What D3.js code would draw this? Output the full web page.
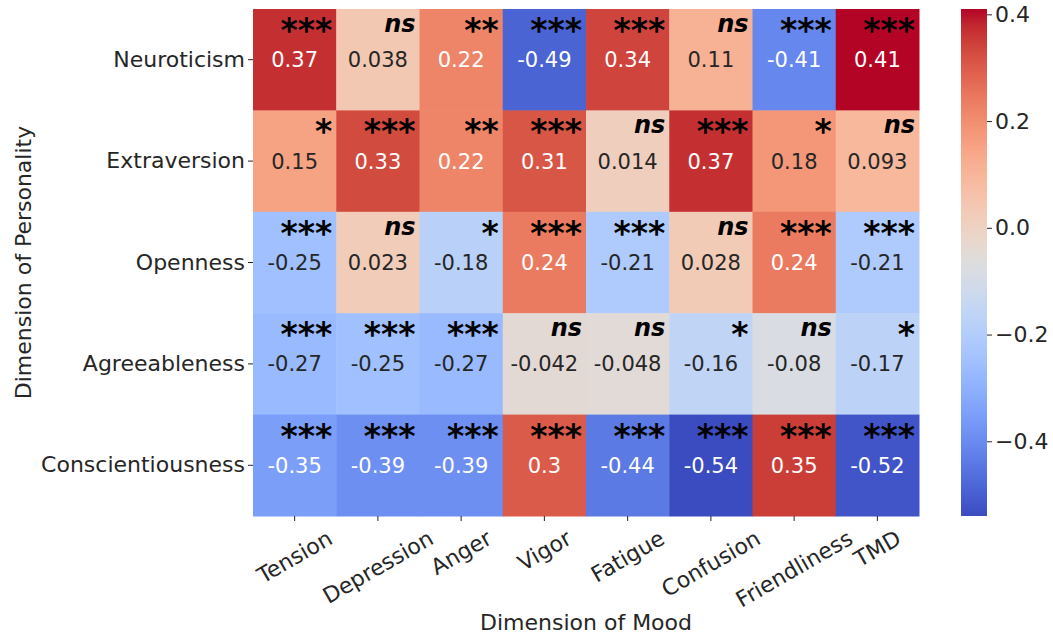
<!DOCTYPE html>
<html>
<head>
<meta charset="utf-8">
<script src="https://cdn.jsdelivr.net/npm/d3@7"></script>
<style>
  html, body { margin: 0; padding: 0; background: #ffffff; }
  svg { display: block; font-family: "DejaVu Sans", sans-serif; }
</style>
</head>
<body>
<svg id="chart" width="1053" height="637"></svg>
<script>
// ---- data ----
const personality = ["Neuroticism", "Extraversion", "Openness", "Agreeableness", "Conscientiousness"];
const mood = ["Tension", "Depression", "Anger", "Vigor", "Fatigue", "Confusion", "Friendliness", "TMD"];
const neuroticism       = [0.37, 0.038, 0.22, -0.49, 0.34, 0.11, -0.41, 0.41];
const extraversion      = [0.15, 0.33, 0.22, 0.31, 0.014, 0.37, 0.18, 0.093];
const openness          = [-0.25, 0.023, -0.18, 0.24, -0.21, 0.028, 0.24, -0.21];
const agreeableness     = [-0.27, -0.25, -0.27, -0.042, -0.048, -0.16, -0.08, -0.17];
const conscientiousness = [-0.35, -0.39, -0.39, 0.3, -0.44, -0.54, 0.35, -0.52];
const sigNeuroticism       = ["***", "ns", "**", "***", "***", "ns", "***", "***"];
const sigExtraversion      = ["*", "***", "**", "***", "ns", "***", "*", "ns"];
const sigOpenness          = ["***", "ns", "*", "***", "***", "ns", "***", "***"];
const sigAgreeableness     = ["***", "***", "***", "ns", "ns", "*", "ns", "*"];
const sigConscientiousness = ["***", "***", "***", "***", "***", "***", "***", "***"];
const colorbarTicks = [0.4, 0.2, 0.0, -0.2, -0.4];
const xTitle = "Dimension of Mood";
const yTitle = "Dimension of Personality";

const values = [neuroticism, extraversion, openness, agreeableness, conscientiousness];
const sigs = [sigNeuroticism, sigExtraversion, sigOpenness, sigAgreeableness, sigConscientiousness];

// ---- coolwarm colormap (matplotlib) ----
const cwR = [0.2298057,0.26623388,0.30386891,0.342804478,0.38301334,0.424369608,0.46666708,0.509635204,0.552953156,0.596262162,0.639176211,0.681291281,0.722193294,0.761464949,0.798691636,0.833466556,0.865395197,0.897787179,0.924127593,0.944468518,0.958852946,0.96732803,0.969954137,0.966811177,0.958003065,0.943660866,0.923944917,0.89904617,0.869186849,0.834620542,0.795631745,0.752534934,0.705673158];
const cwG = [0.298717966,0.353094838,0.406535296,0.458757618,0.50941904,0.558148092,0.604562568,0.648280772,0.688929332,0.726149107,0.759599947,0.788964712,0.813952739,0.834302879,0.849786142,0.860207984,0.86541021,0.848937047,0.827384882,0.800927443,0.769767752,0.734132809,0.694266682,0.650421156,0.602842431,0.551750968,0.49730856,0.439559467,0.378313092,0.312874446,0.24128379,0.157246067,0.01555616];
const cwB = [0.753683153,0.801466763,0.84495867,0.883725899,0.917387822,0.945619588,0.968154911,0.98478814,0.995375608,0.999836203,0.998151185,0.990363227,0.976574709,0.956945269,0.931688648,0.901068838,0.865395561,0.820880546,0.774508472,0.726736146,0.678007945,0.628751763,0.579375448,0.530263762,0.481775914,0.434243684,0.387970225,0.343229596,0.300267182,0.259301199,0.220525627,0.184115123,0.150232812];
const cwColors = cwR.map((r, i) => d3.rgb(r * 255, cwG[i] * 255, cwB[i] * 255).formatHex());
const coolwarm = d3.piecewise(d3.interpolateRgb, cwColors);

const allVals = values.flat();
const vmin = d3.min(allVals), vmax = d3.max(allVals);
const color = d3.scaleSequential(coolwarm).domain([vmin, vmax]);

// ---- layout ----
const svg = d3.select("#chart");
const plotLeft = 253, plotRight = 919, plotTop = 9, plotBottom = 516;
const x = d3.scaleBand().domain(mood).range([plotLeft, plotRight]);
const y = d3.scaleBand().domain(personality).range([plotTop, plotBottom]);
const textDark = "#262626";
const fontSize = 22;

const fmt = d3.formatLocale({decimal: ".", thousands: ",", grouping: [3], currency: ["", ""], minus: "-"}).format(".2~g");

function relLum(c) {
  const rgb = d3.rgb(c);
  const f = v => { v /= 255; return v <= 0.03928 ? v / 12.92 : Math.pow((v + 0.055) / 1.055, 2.4); };
  return 0.2126 * f(rgb.r) + 0.7152 * f(rgb.g) + 0.0722 * f(rgb.b);
}

const cells = [];
personality.forEach((p, i) => mood.forEach((m, j) => cells.push({p, m, v: values[i][j], s: sigs[i][j]})));

const g = svg.append("g");
g.selectAll("rect.cell").data(cells).join("rect")
  .attr("class", "cell")
  .attr("x", d => x(d.m)).attr("y", d => y(d.p))
  .attr("width", x.bandwidth() + 0.5).attr("height", y.bandwidth() + 0.5)
  .attr("fill", d => color(d.v));

g.selectAll("text.val").data(cells).join("text")
  .attr("class", "val")
  .attr("x", d => x(d.m) + x.bandwidth() / 2)
  .attr("y", d => y(d.p) + y.bandwidth() / 2)
  .attr("dy", "0.36em")
  .attr("text-anchor", "middle")
  .attr("font-size", 21)
  .attr("fill", d => relLum(color(d.v)) > 0.408 ? textDark : "#ffffff")
  .text(d => fmt(d.v));

g.selectAll("text.sig").data(cells).join("text")
  .attr("class", "sig")
  .attr("x", d => x(d.m) + x.bandwidth() - 4)
  .attr("y", d => y(d.p) + (d.s === "ns" ? 23 : 33))
  .attr("text-anchor", "end")
  .attr("font-size", d => d.s === "ns" ? 24 : 33)
  .attr("font-weight", "bold")
  .attr("font-style", "italic")
  .attr("fill", "#000000")
  .text(d => d.s);

// ---- y axis ----
const yAxis = svg.append("g").attr("transform", `translate(${plotLeft},0)`)
  .call(d3.axisLeft(y).tickSize(5).tickPadding(3));
yAxis.select(".domain").remove();
yAxis.selectAll(".tick line").attr("stroke", "#262626");
yAxis.selectAll(".tick text").attr("font-size", fontSize).attr("fill", textDark)
  .attr("font-family", "DejaVu Sans");

// ---- x axis ----
const xAxis = svg.append("g").attr("transform", `translate(0,${plotBottom})`)
  .call(d3.axisBottom(x).tickSize(5).tickFormat(""));
xAxis.select(".domain").remove();
xAxis.selectAll(".tick line").attr("stroke", "#262626");
const angle = 30 * Math.PI / 180;
xAxis.selectAll(".tick").each(function(d) {
  const t = d3.select(this).append("text")
    .attr("font-size", fontSize).attr("fill", textDark)
    .attr("font-family", "DejaVu Sans")
    .attr("text-anchor", "middle").attr("dy", "0.35em")
    .text(d);
  const w = t.node().getComputedTextLength();
  const h = fontSize * 1.17;
  const bh = w * Math.sin(angle) + h * Math.cos(angle);
  t.attr("transform", `translate(0,${5 + 4 + bh / 2}) rotate(-30)`);
});

// ---- axis titles ----
svg.append("text")
  .attr("x", (plotLeft + plotRight) / 2).attr("y", 630)
  .attr("text-anchor", "middle").attr("font-size", fontSize).attr("fill", textDark)
  .text(xTitle);
svg.append("text")
  .attr("transform", `translate(31,${(plotTop + plotBottom) / 2}) rotate(-90)`)
  .attr("text-anchor", "middle").attr("font-size", fontSize).attr("fill", textDark)
  .text(yTitle);

// ---- colorbar ----
const cbLeft = 961, cbW = 26;
const cbScale = d3.scaleLinear().domain([vmin, vmax]).range([plotBottom, plotTop]);
const defs = svg.append("defs");
const grad = defs.append("linearGradient").attr("id", "cbgrad")
  .attr("x1", 0).attr("y1", 1).attr("x2", 0).attr("y2", 0);
grad.selectAll("stop").data(d3.range(0, 1.0001, 1 / 64)).join("stop")
  .attr("offset", d => d).attr("stop-color", d => coolwarm(d));
svg.append("rect").attr("x", cbLeft).attr("y", plotTop)
  .attr("width", cbW).attr("height", plotBottom - plotTop)
  .attr("fill", "url(#cbgrad)");
const cbAxis = svg.append("g").attr("transform", `translate(${cbLeft + cbW},0)`)
  .call(d3.axisRight(cbScale).tickValues(colorbarTicks).tickFormat(d3.format(".1f")).tickSize(5).tickPadding(3));
cbAxis.select(".domain").remove();
cbAxis.selectAll(".tick line").attr("stroke", "#262626");
cbAxis.selectAll(".tick text").attr("font-size", fontSize).attr("fill", textDark)
  .attr("font-family", "DejaVu Sans");
</script>
</body>
</html>
